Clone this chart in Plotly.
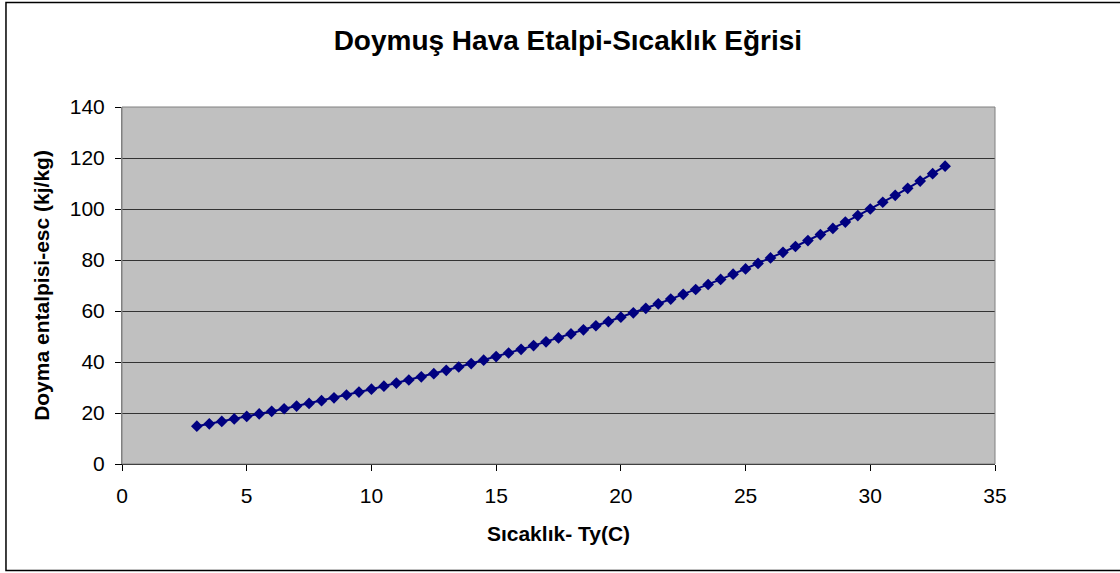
import plotly.graph_objects as go

# sicaklik (C) ve doyma entalpisi (kJ/kg)
sicaklik = [3.0, 3.5, 4.0, 4.5, 5.0, 5.5, 6.0, 6.5, 7.0, 7.5,
            8.0, 8.5, 9.0, 9.5, 10.0, 10.5, 11.0, 11.5, 12.0, 12.5,
            13.0, 13.5, 14.0, 14.5, 15.0, 15.5, 16.0, 16.5, 17.0, 17.5,
            18.0, 18.5, 19.0, 19.5, 20.0, 20.5, 21.0, 21.5, 22.0, 22.5,
            23.0, 23.5, 24.0, 24.5, 25.0, 25.5, 26.0, 26.5, 27.0, 27.5,
            28.0, 28.5, 29.0, 29.5, 30.0, 30.5, 31.0, 31.5, 32.0, 32.5,
            33.0]
entalpi = [14.82, 15.75, 16.70, 17.66, 18.64, 19.64, 20.64, 21.67, 22.71, 23.77,
           24.85, 25.95, 27.06, 28.20, 29.35, 30.53, 31.72, 32.94, 34.18, 35.44,
           36.73, 38.04, 39.37, 40.73, 42.11, 43.52, 44.96, 46.43, 47.93, 49.45,
           51.01, 52.60, 54.22, 55.87, 57.56, 59.28, 61.04, 62.83, 64.66, 66.53,
           68.44, 70.40, 72.39, 74.43, 76.51, 78.64, 80.80, 83.02, 85.29, 87.61,
           89.98, 92.40, 94.88, 97.41, 100.00, 102.64, 105.35, 108.11, 110.95, 113.84,
           116.80]

FONT = "Liberation Sans, Arial, sans-serif"

fig = go.Figure(
    go.Scatter(
        x=sicaklik,
        y=entalpi,
        mode="lines+markers",
        line=dict(color="#000080", width=2),
        marker=dict(symbol="diamond", size=9, color="#000080"),
        showlegend=False
    )
)

fig.update_layout(
    width=1120,
    height=573,
    paper_bgcolor="white",
    plot_bgcolor="#C0C0C0",
    margin=dict(l=122, r=125, t=107, b=109),
    title=dict(
        text="<b>Doymuş Hava Etalpi-Sıcaklık Eğrisi</b>",
        x=0.507, xanchor="center",
        y=0.93, yanchor="middle",
        font=dict(family=FONT, size=28, color="black")
    ),
    font=dict(family=FONT, size=21, color="black"),
    xaxis=dict(
        range=[0, 35],
        tickmode="linear", tick0=0, dtick=5,
        showgrid=False, zeroline=False,
        showline=True, linecolor="black", linewidth=1,
        ticks="outside", ticklen=6, tickcolor="black",
        ticklabelstandoff=7,
        title=dict(text="<b>Sıcaklık- Ty(C)</b>", font=dict(size=21), standoff=20)
    ),
    yaxis=dict(
        range=[0, 140],
        tickmode="linear", tick0=0, dtick=20,
        showgrid=True, gridcolor="#333333", gridwidth=1,
        zeroline=False,
        showline=True, linecolor="#808080", linewidth=1,
        ticks="outside", ticklen=6, tickcolor="black",
        ticklabelstandoff=6,
        title=dict(text="<b>Doyma entalpisi-esc (kj/kg)</b>", font=dict(size=21), standoff=14)
    ),
    shapes=[
        # plot area border
        dict(type="rect", xref="paper", yref="paper", x0=0, x1=1, y0=0, y1=1,
             line=dict(color="#808080", width=1), layer="above"),
        # chart outer border
        dict(type="rect", xref="paper", yref="paper", x0=-0.1329, x1=1.15,
             y0=-0.2983, y1=1.2927, line=dict(color="black", width=1.5)),
    ]
)

# page body has a default margin, remove it so the figure sits at 0,0
fig.write_html("out.html", config={"displayModeBar": False},
               post_script="document.body.style.margin='0';")
